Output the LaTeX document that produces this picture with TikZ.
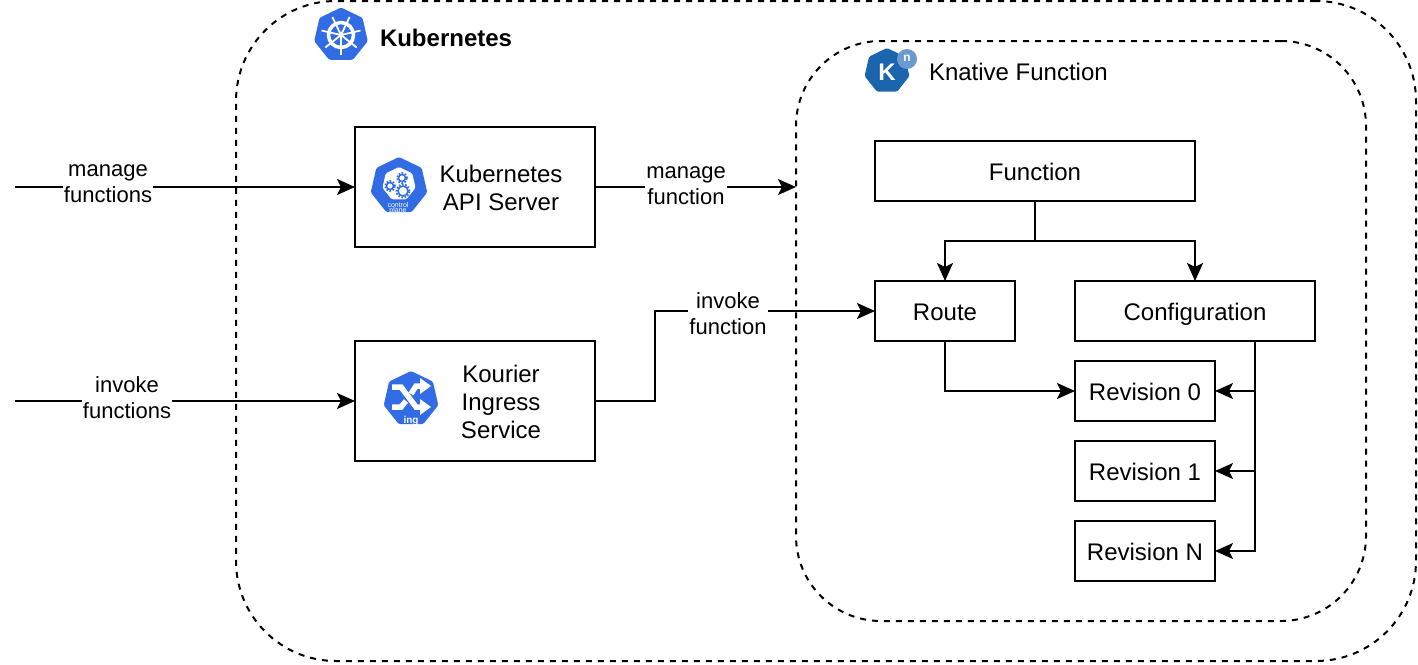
\documentclass[tikz,border=0pt]{standalone}
\usepackage{fontspec}
\setmainfont{Liberation Sans}
\usetikzlibrary{arrows.meta, positioning, shapes.geometric}

\definecolor{kubeblue}{HTML}{326CE5}
\definecolor{knblue}{HTML}{1A65AE}
\definecolor{knlight}{HTML}{6A9AD0}

\begin{document}
\begin{tikzpicture}[
    x=1pt, y=-1pt,
    every node/.style={font=\fontsize{24}{28}\selectfont, outer sep=0pt},
    zone/.style={
        draw,
        dashed,
        dash pattern=on 6pt off 6pt,
        line width=2pt,
        inner sep=0pt
    },
    box/.style={
        draw,
        line width=2pt,
        minimum height=60pt,
        minimum width=140pt,
        inner sep=0pt,
        text height=22pt,
        text depth=4pt,
        align=center
    },
    bigbox/.style={draw, line width=2pt, minimum width=240pt, minimum height=120pt},
    tag/.style={fill=white, align=center, inner sep=1pt, font=\fontsize{22}{26}\selectfont},
    arrow/.style={
        -{Stealth[length=18pt,width=16pt,inset=4pt]},
        line width=2pt
    },
    hept/.style={
        regular polygon,
        regular polygon sides=7,
        inner sep=0pt,
        rounded corners=1.5pt
    },
    tiny/.style={text=white, inner sep=0pt, font=\fontsize{#1}{#1}\selectfont}
]
\useasboundingbox (0,0) rectangle (1418,664);

% Zones
\node[zone, rounded corners=100pt, minimum width=1180pt, minimum height=660pt] (kube) at (826,331) {};
\node[zone, rounded corners=85pt, minimum width=570pt, minimum height=580pt] (knative) at (1081,331) {};

% Boites
\node[bigbox] (api) at (475,187) {};
\node[bigbox, below=94pt of api] (kourier) {};
\node[box, minimum width=320pt] (function) at (1035,171) {Function};
\node[box, below=80pt of function.south west, anchor=north west] (route) {Route};
\node[box, minimum width=240pt, right=60pt of route] (config) {Configuration};
\node[box, below=20pt of config.south west, anchor=north west] (rev0) {Revision 0};
\node[box, below=20pt of rev0] (rev1) {Revision 1};
\node[box, below=20pt of rev1] (revn) {Revision N};

% Textes
\node[align=center] (apitext) at (501,188) {Kubernetes\\API Server};
\node[align=center] (kouriertext) at (501,402) {Kourier\\Ingress\\Service};
\node[font=\fontsize{24}{28}\selectfont\bfseries, anchor=west, inner sep=0pt] (kubetitle) at (380,38) {Kubernetes};
\node[anchor=west, inner sep=0pt] (kntitle) at (929,72) {Knative Function};

% Points libres
\coordinate (managein) at (15,187);
\coordinate (invokein) at (15,401);

% Fleches
\draw[arrow] (managein) -- (api.west);
\draw[arrow] (invokein) -- (kourier.west);
\draw[arrow] (api.east) -- (api.east -| knative.west);
\draw[arrow] (kourier.east) -- ++(60,0) |- (route.west);
\draw[arrow] (function.south) -- ++(0,40) -| (route.north);
\draw[arrow] (function.south) -- ++(0,40) -| (config.north);
\draw[arrow] (route.south) |- (rev0.west);
\draw[arrow] ([xshift=60pt]config.south) |- (rev0.east);
\draw[arrow] ([xshift=60pt]config.south) |- (rev1.east);
\draw[arrow] ([xshift=60pt]config.south) |- (revn.east);

% Etiquettes
\node[tag] (managelabel) at (108,184) {manage\\functions};
\node[tag] (invokelabel) at (127,398) {invoke\\functions};
\node[tag] (apilabel) at (686,186) {manage\\function};
\node[tag] (routelabel) at (728,314) {invoke\\function};

% Icone Kubernetes
\node[hept, fill=kubeblue, minimum size=55pt] (kubeicon) at (341,35) {};
\begin{scope}[shift={(kubeicon.center)}, white]
    \draw[line width=3.5pt] (0,0) circle (12.5pt);
    \fill (0,0) circle (2.5pt);
    \foreach \a in {90,141.4,192.9,244.3,295.7,347.1,38.6} {
        \draw[line width=1.8pt] (0,0) -- (\a:20);
    }
\end{scope}

% Icone Knative
\node[hept, fill=knblue, minimum size=46pt] (knicon) at (887,71) {};
\node[circle, fill=knlight, minimum size=20pt, inner sep=0pt] (knbadge) at (907,59) {};
\node[font=\fontsize{24}{24}\selectfont\bfseries, text=white, inner sep=0pt] (kletter) at (887,72) {K};
\node[tiny=12, font=\fontsize{12}{12}\selectfont\bfseries] (nletter) at (907,58) {n};

% Icone control plane
\node[hept, fill=kubeblue, minimum size=58pt] (apiicon) at (399,186) {};
\node[hept, fill=white, minimum size=34pt] (apiinner) at (399,184) {};
\begin{scope}[shift={(apiicon.center)}, kubeblue]
    \foreach \gx/\gy/\gr in {-9/0/3.5, 3/-8/3.5, 4/5/5} {
        \draw[line width=1.5pt] (\gx,\gy) circle (\gr pt);
        \draw[line width=1.8pt, dash pattern=on 1.6pt off 1.6pt] (\gx,\gy) circle (\gr pt + 1.5pt);
    }
\end{scope}
\node[tiny=7] (cplabel) at (398,205) {control};
\node[tiny=7] (pllabel) at (398,211) {plane};

% Icone ingress
\node[hept, fill=kubeblue, minimum size=56pt] (ingicon) at (411,399) {};
\begin{scope}[shift={(ingicon.center)}, white]
    \draw[line width=5.5pt] (-19,-12) -- (-10,-12) -- (5,8) -- (10,8);
    \draw[line width=5.5pt] (-19,8) -- (-10,8) -- (-5,2);
    \draw[line width=5.5pt] (0,-5) -- (5,-13) -- (10,-13);
    \fill (9,-21) -- (20,-13) -- (9,-5) -- cycle;
    \fill (9,0) -- (20,8) -- (9,16) -- cycle;
\end{scope}
\node[tiny=9, font=\fontsize{10}{10}\selectfont\bfseries] (inglabel) at (411,421) {ing};
\end{tikzpicture}
\end{document}
